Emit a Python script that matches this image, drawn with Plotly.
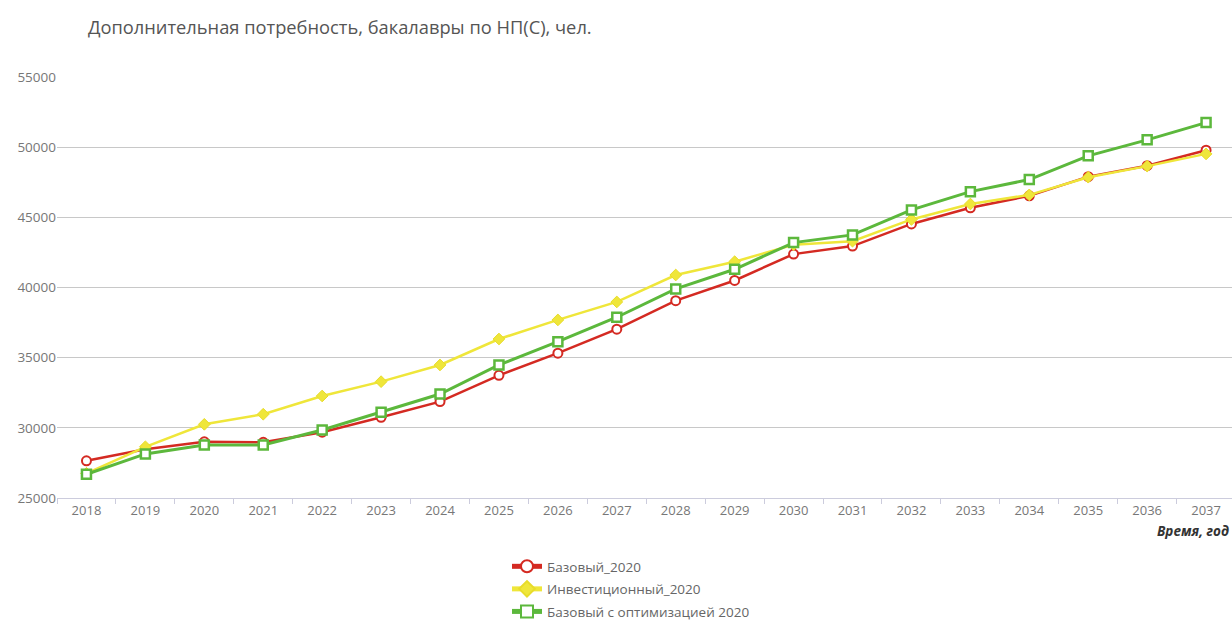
import plotly.graph_objects as go

years = [str(y) for y in range(2018, 2038)]
base_2020 = [27650, 28480, 29000, 28970, 29690, 30750, 31870, 33740, 35320, 37030,
             39060, 40500, 42380, 42950, 44530, 45680, 46530, 47900, 48680, 49780]
invest_2020 = [26760, 28650, 30250, 30970, 32270, 33290, 34480, 36330, 37690, 38970,
               40890, 41840, 43050, 43300, 44850, 45950, 46600, 47860, 48650, 49520]
base_opt_2020 = [26690, 28140, 28780, 28780, 29850, 31110, 32410, 34480, 36140, 37880,
                 39900, 41300, 43200, 43750, 45530, 46830, 47690, 49380, 50520, 51750]

names = ["Базовый_2020", "Инвестиционный_2020", "Базовый с оптимизацией 2020"]
title_text = "Дополнительная потребность, бакалавры по НП(С), чел."
x_title = "Время, год"

fig = go.Figure()
fig.add_trace(go.Scatter(
    x=years, y=base_2020, name=names[0], mode="lines+markers", legendgroup="a",
    line=dict(color="#d42a22", width=2.5),
    marker=dict(symbol="circle", size=9, color="white", line=dict(color="#d42a22", width=2)),
))
fig.add_trace(go.Scatter(
    x=years, y=invest_2020, name=names[1], mode="lines+markers", legendgroup="b",
    line=dict(color="#efe63a", width=2.5),
    marker=dict(symbol="diamond", size=9, color="#efe63a", line=dict(color="#e8dc2a", width=1)),
))
fig.add_trace(go.Scatter(
    x=years, y=base_opt_2020, name=names[2], mode="lines+markers", legendgroup="c",
    line=dict(color="#5cb83c", width=3),
    marker=dict(symbol="square", size=9, color="white", line=dict(color="#5cb83c", width=2.5)),
))

fig.update_layout(
    width=1232, height=623,
    margin=dict(l=57, r=0, t=77, b=125, autoexpand=False),
    paper_bgcolor="white", plot_bgcolor="white",
    font=dict(family="Open Sans, DejaVu Sans, sans-serif", color="#666", size=12),
    title=dict(text=title_text, x=88 / 1232, xanchor="left", y=1 - 28 / 623, yanchor="middle",
               font=dict(size=18.3, color="#555")),
    showlegend=True,
    legend=dict(orientation="v", x=(507 - 57) / 1175, xanchor="left", y=-0.126, yanchor="top",
                font=dict(size=13.5, color="#666"), itemsizing="constant", tracegroupgap=2,
                itemwidth=30),
    xaxis=dict(
        type="category", range=[-0.5, 19.44], showgrid=False,
        showline=True, linecolor="#ccd", linewidth=1,
        ticks="outside", tickson="boundaries", ticklen=5, tickcolor="#ccd",
        tickfont=dict(size=13, color="#777"),
    ),
    yaxis=dict(
        range=[25000, 55000], dtick=5000, tickformat="d",
        showgrid=True, gridcolor="#c8c8c8", gridwidth=1.3, zeroline=False,
        tickfont=dict(size=13.5, color="#777"),
    ),
    annotations=[dict(
        text="<b><i>" + x_title + "</i></b>", xref="paper", yref="paper",
        x=(1155 - 57) / 1175, y=-(531 - 498) / 421, xanchor="left", yanchor="middle",
        showarrow=False, font=dict(size=13.5, color="#333"),
    )],
)

fig.write_html("out.html", config={"displayModeBar": False},
               post_script="document.body.style.margin='0';document.body.style.overflow='hidden';")
